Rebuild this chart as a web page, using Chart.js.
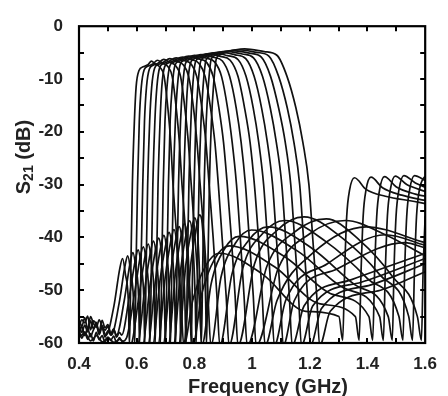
<!DOCTYPE html>
<html>
<head>
<meta charset="utf-8">
<script src="https://cdn.jsdelivr.net/npm/chart.js@4.4.0/dist/chart.umd.min.js"></script>
<style>
    html, body { margin: 0; padding: 0; background: #fff; }
</style>
</head>
<body>
<canvas id="s21-chart" width="448" height="396"></canvas>
<script>
    "use strict";

    // Axis ticks
    var xTickValues = [0.4, 0.6, 0.8, 1.0, 1.2, 1.4, 1.6];
    var xTickLabels = ["0.4", "0.6", "0.8", "1", "1.2", "1.4", "1.6"];
    var yTickValues = [-60, -50, -40, -30, -20, -10, 0];
    var yTickLabels = ["-60", "-50", "-40", "-30", "-20", "-10", "0"];
    var xTickMarks = [0.5, 0.6, 0.7, 0.8, 0.9, 1.0, 1.1, 1.2, 1.3, 1.4, 1.5];
    var yTickMarks = [-55, -50, -45, -40, -35, -30, -25, -20, -15, -10, -5];

    // S21 traces, one per tuning state: [frequency GHz, dB]
    var curve0 = [[0.40,-55.5],[0.41,-56.8],[0.42,-55.2],[0.43,-57.4],[0.44,-55.0],[0.45,-56.3],[0.46,-57.0],[0.47,-55.6],[0.48,-56.9],
        [0.494,-58.5],[0.521,-53],[0.541,-46],[0.551,-44],[0.561,-47],[0.571,-52],[0.575,-60.5],
        [0.580,-45],[0.585,-30],[0.592,-18],[0.598,-11.5],[0.608,-8.4],[0.622,-7.7],[0.639,-7.3],[0.651,-6.6],
        [0.663,-7.1],[0.681,-7.8],[0.695,-9.5],[0.708,-15.5],[0.718,-22],[0.726,-30],[0.739,-40],[0.753,-51],[0.763,-60.5],
        [0.794,-52],[0.838,-45.5],[0.887,-43],
        [1.037,-47],[1.186,-54],[1.301,-55],[1.314,-59.5],[1.321,-46],[1.328,-36],[1.338,-31],[1.355,-28.7],
        [1.395,-30.9],[1.462,-32.2],[1.563,-33.2],[1.600,-33.6]];
    var curve1 = [[0.40,-57.0],[0.41,-55.6],[0.42,-56.2],[0.43,-54.9],[0.44,-57.5],[0.45,-55.8],[0.46,-56.4],[0.47,-57.8],[0.48,-55.7],[0.49,-57.1],[0.50,-56.5],
        [0.512,-58.5],[0.539,-52.5],[0.559,-45.5],[0.569,-43.5],[0.579,-46.5],[0.589,-52],[0.593,-60.5],
        [0.598,-45],[0.603,-30],[0.609,-18],[0.616,-11.5],[0.626,-8.25],[0.640,-7.55],[0.656,-7.15],[0.672,-6.45],
        [0.688,-6.95],[0.708,-7.65],[0.723,-9.5],[0.737,-15.5],[0.748,-22],[0.757,-30],[0.771,-40],[0.784,-51],[0.794,-60.5],
        [0.826,-50.6],[0.870,-44.1],[0.921,-41.6],
        [1.079,-45.6],[1.236,-52.6],[1.358,-55],[1.371,-59.5],[1.378,-46],[1.385,-36],[1.395,-31],[1.412,-28.6],
        [1.452,-30.6],[1.519,-32],[1.600,-33]];
    var curve2 = [[0.40,-56.2],[0.41,-58.0],[0.42,-56.6],[0.43,-57.9],[0.44,-55.8],[0.45,-57.3],[0.46,-56.1],[0.47,-58.2],[0.48,-56.7],[0.49,-57.6],[0.50,-56.9],[0.51,-58.3],[0.52,-57.4],
        [0.530,-58.5],[0.557,-51.9],[0.577,-44.9],[0.587,-42.9],[0.597,-45.9],[0.607,-52],[0.610,-60.5],
        [0.615,-45],[0.621,-30],[0.627,-18],[0.634,-11.5],[0.644,-8.1],[0.657,-7.4],[0.674,-7.0],[0.694,-6.3],
        [0.713,-6.8],[0.735,-7.5],[0.752,-9.5],[0.767,-15.5],[0.779,-22],[0.789,-30],[0.802,-40],[0.816,-51],[0.826,-60.5],
        [0.858,-48.8],[0.903,-42.3],[0.955,-39.8],
        [1.117,-43.8],[1.279,-50.8],[1.405,-55],[1.418,-59.5],[1.425,-46],[1.432,-36],[1.442,-31],[1.459,-28.5],
        [1.499,-30.4],[1.566,-31.8],[1.600,-32.2]];
    var curve3 = [[0.40,-58.3],[0.41,-56.9],[0.42,-58.6],[0.43,-57.2],[0.44,-58.8],[0.45,-57.5],[0.46,-56.6],[0.47,-58.4],[0.48,-57.0],[0.49,-58.9],[0.50,-57.7],[0.51,-58.5],[0.52,-57.3],[0.53,-58.9],[0.54,-58.0],
        [0.548,-58.5],[0.574,-51.35],[0.595,-44.35],[0.605,-42.35],[0.615,-45.35],[0.625,-52],[0.628,-60.5],
        [0.633,-45],[0.638,-30],[0.645,-18],[0.652,-11.5],[0.662,-7.95],[0.675,-7.24],[0.692,-6.84],[0.715,-6.14],
        [0.738,-6.64],[0.762,-7.35],[0.780,-9.5],[0.797,-15.5],[0.809,-22],[0.820,-30],[0.834,-40],[0.847,-51],[0.857,-60.5],
        [0.892,-47.6],[0.942,-41.1],[0.998,-38.6],
        [1.158,-42.6],[1.318,-49.6],[1.442,-55],[1.455,-59.5],[1.462,-46],[1.469,-36],[1.479,-31],[1.496,-28.4],
        [1.536,-30],[1.600,-31.3]];
    var curve4 = [[0.40,-57.5],[0.41,-59.1],[0.42,-57.9],[0.43,-59.3],[0.44,-58.2],[0.45,-59.6],[0.46,-58.0],[0.47,-59.4],[0.48,-58.6],[0.49,-59.8],[0.50,-58.9],[0.51,-59.5],[0.52,-58.7],[0.53,-59.9],[0.54,-59.0],[0.55,-59.7],
        [0.565,-59],[0.592,-50.8],[0.612,-43.8],[0.623,-41.8],[0.633,-44.8],[0.643,-52],[0.646,-60.5],
        [0.651,-45],[0.656,-30],[0.663,-18],[0.670,-11.5],[0.680,-7.8],[0.693,-7.09],[0.710,-6.69],[0.737,-5.99],
        [0.764,-6.49],[0.789,-7.2],[0.808,-9.5],[0.826,-15.5],[0.840,-22],[0.851,-30],[0.865,-40],[0.878,-51],[0.888,-60.5],
        [0.930,-47],[0.989,-40.5],[1.055,-38],
        [1.206,-42],[1.357,-49],[1.472,-55],[1.486,-59.5],[1.492,-46],[1.499,-36],[1.509,-31],[1.526,-28.3],
        [1.566,-29.7],[1.600,-30.5]];
    var curve5 = [[0.400,-59.0],[0.420,-58.1],[0.440,-59.6],[0.461,-58.6],[0.481,-59.8],[0.501,-59.0],[0.521,-59.9],[0.541,-59.3],[0.561,-60.2],[0.575,-60.5],
        [0.583,-60],[0.610,-50.25],[0.630,-43.25],[0.640,-41.25],[0.650,-44.25],[0.661,-52],[0.664,-60.5],
        [0.669,-45],[0.674,-30],[0.681,-18],[0.687,-11.5],[0.697,-7.65],[0.711,-6.94],[0.728,-6.54],[0.759,-5.84],
        [0.789,-6.34],[0.816,-7.05],[0.837,-9.5],[0.856,-15.5],[0.871,-22],[0.883,-30],[0.896,-40],[0.910,-51],[0.920,-60.5],
        [0.968,-45.8],[1.036,-39.3],[1.113,-36.8],
        [1.256,-40.8],[1.400,-47.8],[1.509,-55],[1.523,-59.5],[1.529,-46],[1.536,-36],[1.546,-31],[1.563,-28.3],[1.600,-29.2]];
    var curve6 = [[0.400,-62],[0.601,-61],[0.628,-49.7],[0.648,-42.7],[0.658,-40.7],[0.668,-43.7],[0.678,-52],[0.682,-60.5],
        [0.687,-45],[0.692,-30],[0.698,-18],[0.705,-11.5],[0.715,-7.5],[0.729,-6.78],[0.746,-6.38],[0.780,-5.68],
        [0.814,-6.18],[0.843,-6.9],[0.865,-9.5],[0.885,-15.5],[0.901,-22],[0.914,-30],[0.928,-40],[0.941,-51],[0.951,-60.5],
        [1.008,-45.1],[1.088,-38.6],[1.180,-36.1],
        [1.312,-40.1],[1.443,-47.1],[1.543,-55],[1.556,-59.5],[1.563,-46],[1.570,-36],[1.580,-31],[1.597,-28.6],[1.600,-28.5]];
    var curve7 = [[0.400,-62],[0.619,-61],[0.646,-49.15],[0.666,-42.15],[0.676,-40.15],[0.686,-43.15],[0.696,-52],[0.700,-60.5],
        [0.705,-45],[0.710,-30],[0.716,-18],[0.723,-11.5],[0.733,-7.35],[0.747,-6.63],[0.763,-6.23],[0.801,-5.53],
        [0.839,-6.03],[0.870,-6.75],[0.894,-9.5],[0.915,-15.5],[0.931,-22],[0.946,-30],[0.959,-40],[0.972,-51],[0.983,-60.5],
        [1.051,-45.5],[1.147,-39],[1.257,-36.5],
        [1.372,-40.5],[1.488,-47.5],[1.573,-55],[1.587,-59.5],[1.593,-46],[1.600,-36]];
    var curve8 = [[0.400,-62],[0.637,-61],[0.664,-48.6],[0.684,-41.6],[0.694,-39.6],[0.704,-42.6],[0.714,-52],[0.717,-60.5],
        [0.722,-45],[0.727,-30],[0.734,-18],[0.741,-11.5],[0.751,-7.2],[0.764,-6.48],[0.781,-6.08],[0.823,-5.38],
        [0.865,-5.88],[0.897,-6.6],[0.922,-9.5],[0.945,-15.5],[0.962,-22],[0.977,-30],[0.990,-40],[1.004,-51],[1.014,-60.5],
        [1.091,-45.8],[1.200,-39.3],[1.324,-36.8],[1.462,-39.5],[1.600,-43.5]];
    var curve9 = [[0.400,-62],[0.654,-61],[0.681,-48.05],[0.702,-41.05],[0.712,-39.05],[0.722,-42.05],[0.732,-52],[0.735,-60.5],
        [0.740,-45],[0.745,-30],[0.752,-18],[0.759,-11.5],[0.769,-7.05],[0.782,-6.32],[0.799,-5.92],[0.845,-5.22],
        [0.890,-5.72],[0.924,-6.45],[0.951,-9.5],[0.974,-15.5],[0.993,-22],[1.008,-30],[1.022,-40],[1.035,-51],[1.045,-60.5],
        [1.086,-52],[1.210,-43],[1.395,-38],[1.600,-41]];
    var curve10 = [[0.400,-62],[0.672,-61],[0.699,-47.5],[0.719,-40.5],[0.729,-38.5],[0.739,-41.5],[0.750,-52],[0.753,-60.5],
        [0.758,-45],[0.763,-30],[0.770,-18],[0.776,-11.5],[0.787,-6.9],[0.800,-6.17],[0.817,-5.77],[0.866,-5.07],
        [0.915,-5.57],[0.951,-6.3],[0.979,-9.5],[1.004,-15.5],[1.023,-22],[1.040,-30],[1.053,-40],[1.067,-51],[1.077,-60.5],
        [1.116,-52],[1.261,-45],[1.462,-39.5],[1.600,-41.5]];
    var curve11 = [[0.400,-62],[0.690,-61],[0.717,-46.95],[0.737,-39.95],[0.747,-37.95],[0.757,-40.95],[0.767,-52],[0.771,-60.5],
        [0.776,-45],[0.781,-30],[0.788,-18],[0.794,-11.5],[0.804,-6.75],[0.818,-6.02],[0.835,-5.62],[0.888,-4.92],
        [0.941,-5.42],[0.978,-6.15],[1.007,-9.5],[1.033,-15.5],[1.053,-22],[1.071,-30],[1.084,-40],[1.098,-51],[1.108,-60.5],
        [1.146,-52],[1.294,-46],[1.529,-41],[1.600,-42]];
    var curve12 = [[0.400,-62],[0.708,-61],[0.735,-46.4],[0.755,-39.4],[0.765,-37.4],[0.775,-40.4],[0.785,-52],[0.789,-60.5],
        [0.794,-45],[0.799,-30],[0.805,-18],[0.812,-11.5],[0.822,-6.6],[0.836,-5.86],[0.852,-5.46],[0.909,-4.76],
        [0.966,-5.26],[1.005,-6],[1.036,-9.5],[1.063,-15.5],[1.084,-22],[1.103,-30],[1.116,-40],[1.129,-51],[1.139,-60.5],
        [1.180,-53],[1.345,-48],[1.600,-43]];
    var curve13 = [[0.400,-62],[0.726,-61],[0.753,-45.85],[0.773,-38.85],[0.783,-36.85],[0.793,-39.85],[0.803,-52],[0.806,-60.5],
        [0.811,-45],[0.816,-30],[0.823,-18],[0.830,-11.5],[0.840,-6.45],[0.853,-5.71],[0.870,-5.31],[0.931,-4.61],
        [0.991,-5.11],[1.032,-5.85],[1.064,-9.5],[1.092,-15.5],[1.115,-22],[1.134,-30],[1.147,-40],[1.161,-51],[1.171,-60.5],
        [1.210,-53],[1.378,-48.5],[1.600,-44]];
    var curve14 = [[0.400,-62],[0.744,-61],[0.770,-45.3],[0.791,-38.3],[0.801,-36.3],[0.811,-39.3],[0.821,-52],[0.824,-60.5],
        [0.829,-45],[0.834,-30],[0.841,-18],[0.848,-11.5],[0.858,-6.3],[0.871,-5.56],[0.888,-5.16],[0.952,-4.46],
        [1.016,-4.96],[1.059,-5.7],[1.092,-9.5],[1.122,-15.5],[1.145,-22],[1.165,-30],[1.178,-40],[1.192,-51],[1.202,-60.5],
        [1.240,-53.5],[1.412,-49],[1.600,-45]];
    var curve15 = [[0.400,-62],[0.761,-61],[0.788,-44.75],[0.808,-37.75],[0.818,-35.75],[0.829,-38.75],[0.839,-52],[0.842,-60.5],
        [0.847,-45],[0.852,-30],[0.859,-18],[0.866,-11.5],[0.876,-6.15],[0.889,-5.4],[0.906,-5.0],[0.974,-4.3],
        [1.042,-4.8],[1.086,-5.5],[1.121,-9.5],[1.152,-15.5],[1.176,-22],[1.197,-30],[1.210,-40],[1.224,-51],[1.234,-60.5],
        [1.271,-54],[1.445,-50],[1.600,-46.5]];

    var curves = [curve0, curve1, curve2, curve3, curve4, curve5, curve6, curve7,
        curve8, curve9, curve10, curve11, curve12, curve13, curve14, curve15];

    var FONT = "'Liberation Sans', Arial, sans-serif";


    // Inward ticks on all four sides, frame and axis titles
    var frameTicks = {
        id: "frameTicks",
        afterDraw: function (chart) {
            var ctx = chart.ctx;
            var a = chart.chartArea;
            var xs = chart.scales.x;
            var ys = chart.scales.y;
            ctx.save();
            ctx.strokeStyle = "#000";
            ctx.lineWidth = 2;
            ctx.beginPath();
            xTickMarks.forEach(function (v) {
                var px = Math.round(xs.getPixelForValue(v));
                ctx.moveTo(px, a.bottom); ctx.lineTo(px, a.bottom - 5);
                ctx.moveTo(px, a.top); ctx.lineTo(px, a.top + 5);
            });
            yTickMarks.forEach(function (v) {
                var py = Math.round(ys.getPixelForValue(v));
                ctx.moveTo(a.left, py); ctx.lineTo(a.left + 5, py);
                ctx.moveTo(a.right, py); ctx.lineTo(a.right - 5, py);
            });
            ctx.stroke();
            ctx.lineWidth = 2.2;
            ctx.strokeRect(a.left, a.top, a.right - a.left, a.bottom - a.top);

            // x title
            ctx.fillStyle = "#222";
            ctx.font = "bold 20px " + FONT;
            ctx.textAlign = "center";
            ctx.textBaseline = "alphabetic";
            ctx.fillText("Frequency (GHz)", 268, 393);

            // y title with subscript
            ctx.translate(30, 157);
            ctx.rotate(-Math.PI / 2);
            var big = "bold 20px " + FONT, small = "bold 14px " + FONT;
            ctx.font = big;
            var w1 = ctx.measureText("S").width;
            var w3 = ctx.measureText(" (dB)").width;
            ctx.font = small;
            var w2 = ctx.measureText("21").width;
            var x0 = -(w1 + w2 + w3) / 2;
            ctx.textAlign = "left";
            ctx.font = big;
            ctx.fillText("S", x0, 0);
            ctx.font = small;
            ctx.fillText("21", x0 + w1, 3);
            ctx.font = big;
            ctx.fillText(" (dB)", x0 + w1 + w2, 0);
            ctx.restore();
        }
    };


    // S21 chart
    var ctx1 = document.getElementById("s21-chart").getContext("2d");
    var myChart1 = new Chart(ctx1, {
        type: "line",
        data: {
            datasets: curves.map(function (c) {
                return {
                    data: c.map(function (p) { return {x: p[0], y: p[1]}; }),
                    borderColor: "#111",
                    borderWidth: 1.7,
                    pointRadius: 0,
                    fill: false,
                    cubicInterpolationMode: "monotone",
                    clip: 0
                };
            })
        },
        options: {
            responsive: false,
            animation: false,
            events: [],
            layout: {padding: {top: 17, right: 12, left: 0, bottom: 0}},
            plugins: {legend: {display: false}, tooltip: {enabled: false}},
            scales: {
                x: {
                    type: "linear",
                    min: 0.4,
                    max: 1.6,
                    grid: {display: false, drawTicks: false},
                    border: {display: false},
                    afterBuildTicks: function (s) {
                        s.ticks = xTickValues.map(function (v) { return {value: v}; });
                    },
                    afterFit: function (s) { s.height = 53; },
                    ticks: {
                        color: "#222",
                        padding: 11,
                        maxRotation: 0,
                        autoSkip: false,
                        font: {family: FONT, size: 17, weight: "bold"},
                        callback: function (v) {
                            var i = xTickValues.indexOf(Math.round(v * 10) / 10);
                            return i >= 0 ? xTickLabels[i] : "";
                        }
                    }
                },
                y: {
                    type: "linear",
                    min: -60,
                    max: 0,
                    grid: {display: false, drawTicks: false},
                    border: {display: false},
                    afterBuildTicks: function (s) {
                        s.ticks = yTickValues.map(function (v) { return {value: v}; });
                    },
                    afterFit: function (s) { s.width = 79; },
                    ticks: {
                        color: "#222",
                        padding: 16,
                        autoSkip: false,
                        font: {family: FONT, size: 17, weight: "bold"},
                        callback: function (v) {
                            var i = yTickValues.indexOf(v);
                            return i >= 0 ? yTickLabels[i] : "";
                        }
                    }
                }
            }
        },
        plugins: [frameTicks]
    });
</script>
</body>
</html>
